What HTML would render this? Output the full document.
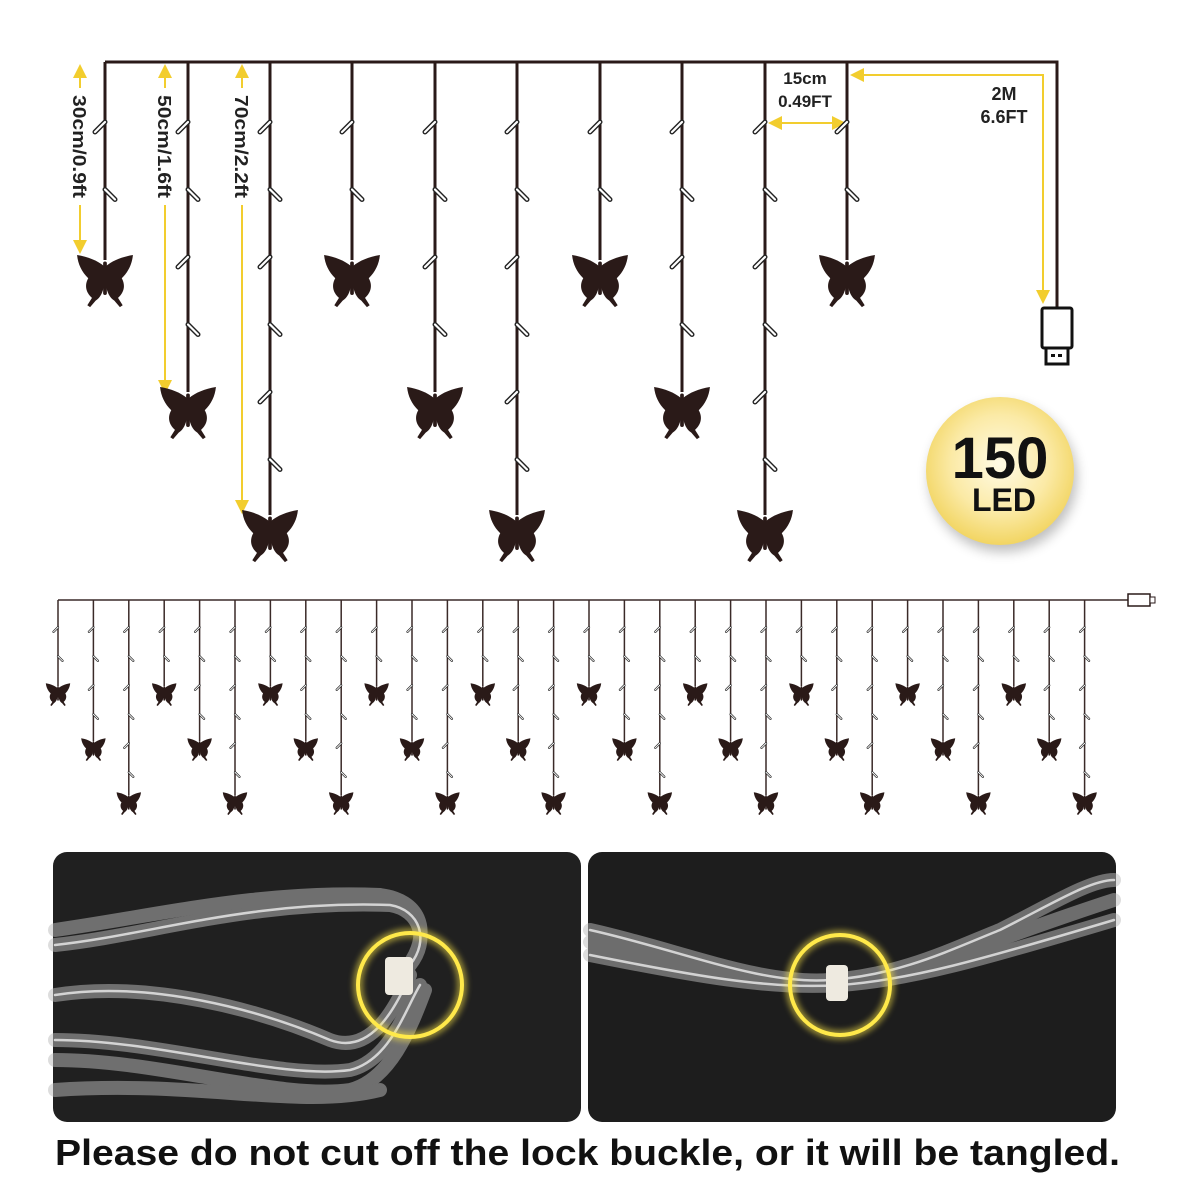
<!DOCTYPE html>
<html><head><meta charset="utf-8"><style>
html,body{margin:0;padding:0;background:#fff;width:1200px;height:1200px;overflow:hidden}
svg{display:block}
</style></head><body>
<svg id="s" width="1200" height="1200" viewBox="0 0 1200 1200" xmlns="http://www.w3.org/2000/svg" font-family="Liberation Sans, sans-serif">
<defs>
<symbol id="bf" viewBox="-32 -4 64 58" overflow="visible">
<g fill="#2a1a18">
<path d="M-1,8 C-8,2 -18,-2 -30,-4 C-29,6 -25,14 -18,21 C-22,28 -21,36 -14,42 L-19,50 L-16,52 L-10,45 C-5,42 -2,36 -1,28 Z"/>
<path d="M1,8 C8,2 18,-2 30,-4 C29,6 25,14 18,21 C22,28 21,36 14,42 L19,50 L16,52 L10,45 C5,42 2,36 1,28 Z"/>
<rect x="-2" y="3" width="4" height="36" rx="2"/>
</g>
</symbol>
<radialGradient id="led" cx="50%" cy="45%" r="55%">
<stop offset="0" stop-color="#fffbe6"/><stop offset="0.6" stop-color="#fbeaa6"/><stop offset="1" stop-color="#f2d562"/>
</radialGradient>
<filter id="sh" x="-30%" y="-30%" width="160%" height="160%"><feGaussianBlur stdDeviation="6"/></filter>
<filter id="gl" x="-30%" y="-30%" width="160%" height="160%"><feGaussianBlur stdDeviation="3"/></filter>
</defs>
<g stroke="#2a1a18" stroke-width="3" fill="none">
<path d="M105,62 H1057 V308"/>
</g>
<g stroke="#3a2a28" stroke-width="1.5" fill="none">
<path d="M58,600 H1128"/>
</g>
<rect x="1128" y="594" width="22" height="12" fill="#fff" stroke="#2a1a18" stroke-width="1.5"/>
<rect x="1150" y="597" width="5" height="6" fill="#fff" stroke="#2a1a18" stroke-width="1"/>
<rect x="1042" y="308" width="30" height="40" rx="2" fill="#fff" stroke="#111" stroke-width="3"/>
<rect x="1046" y="348" width="22" height="16" fill="#fff" stroke="#111" stroke-width="3"/>
<rect x="1051" y="354" width="4" height="3" fill="#111"/><rect x="1058" y="354" width="4" height="3" fill="#111"/>
<g stroke="#f2cd2e" stroke-width="2" fill="#f2cd2e">
<line x1="80" y1="75" x2="80" y2="88"/><line x1="80" y1="205" x2="80" y2="245"/>
<polygon points="73,78 87,78 80,64" stroke="none"/><polygon points="73,240 87,240 80,254" stroke="none"/>
<line x1="165" y1="75" x2="165" y2="88"/><line x1="165" y1="205" x2="165" y2="385"/>
<polygon points="158,78 172,78 165,64" stroke="none"/><polygon points="158,380 172,380 165,394" stroke="none"/>
<line x1="242" y1="75" x2="242" y2="88"/><line x1="242" y1="205" x2="242" y2="505"/>
<polygon points="235,78 249,78 242,64" stroke="none"/><polygon points="235,500 249,500 242,514" stroke="none"/>
<line x1="775" y1="123" x2="838" y2="123"/>
<polygon points="768,123 782,116 782,130" stroke="none"/><polygon points="846,123 832,116 832,130" stroke="none"/>
<polyline points="860,75 1043,75 1043,295" fill="none"/>
<polygon points="850,75 864,68 864,82" stroke="none"/><polygon points="1036,290 1050,290 1043,304" stroke="none"/>
</g>
<g font-weight="bold" fill="#222" font-size="18">
<text transform="translate(73,95) rotate(90)" textLength="103" lengthAdjust="spacingAndGlyphs">30cm/0.9ft</text>
<text transform="translate(158,95) rotate(90)" textLength="103" lengthAdjust="spacingAndGlyphs">50cm/1.6ft</text>
<text transform="translate(235,95) rotate(90)" textLength="103" lengthAdjust="spacingAndGlyphs">70cm/2.2ft</text>
<text x="805" y="84" text-anchor="middle" font-size="17">15cm</text>
<text x="805" y="107" text-anchor="middle" font-size="17">0.49FT</text>
<text x="1004" y="100" text-anchor="middle" font-size="18">2M</text>
<text x="1004" y="123" text-anchor="middle" font-size="18">6.6FT</text>
</g>
<circle cx="1003" cy="478" r="74" fill="#000" opacity="0.25" filter="url(#sh)"/>
<circle cx="1000" cy="471" r="74" fill="url(#led)"/>
<text x="1000" y="478" text-anchor="middle" font-weight="bold" font-size="58" fill="#111">150</text>
<text x="1004" y="511" text-anchor="middle" font-weight="bold" font-size="32" fill="#111">LED</text>
<rect x="53" y="852" width="528" height="270" rx="14" fill="#202020"/>
<rect x="588" y="852" width="528" height="270" rx="14" fill="#1d1d1d"/>
<g fill="none" stroke-linecap="round">
<g stroke="#bdbdbd" stroke-width="14" opacity="0.5">
<path d="M55,945 C150,935 250,900 390,905 C420,910 430,940 410,965"/>
<path d="M55,930 C160,915 260,890 380,895 C420,900 430,930 412,960"/>
<path d="M55,995 C150,980 260,1010 330,1040 C370,1055 395,1010 410,975"/>
<path d="M55,1040 C160,1040 280,1080 350,1070 C390,1060 405,1010 420,985"/>
<path d="M55,1060 C160,1060 280,1100 350,1090 C390,1080 410,1030 425,990"/>
<path d="M55,1090 C200,1080 300,1110 380,1090"/>
<path d="M590,930 C680,950 760,985 830,980 C900,975 950,950 1000,930 C1050,905 1090,880 1114,880"/>
<path d="M590,955 C690,975 770,990 840,985 C910,980 980,960 1114,920"/>
<path d="M590,942 C690,965 770,985 840,982 C910,978 990,940 1114,900"/>
</g>
<g stroke="#ffffff" stroke-width="2.5" opacity="0.7">
<path d="M55,945 C150,935 250,900 390,905 C420,910 430,940 410,965"/>
<path d="M55,995 C150,980 260,1010 330,1040 C370,1055 395,1010 410,975"/>
<path d="M55,1040 C160,1040 280,1080 350,1070 C390,1060 405,1010 420,985"/>
<path d="M590,930 C680,950 760,985 830,980 C900,975 950,950 1000,930 C1050,905 1090,880 1114,880"/>
<path d="M590,955 C690,975 770,990 840,985 C910,980 980,960 1114,920"/>
</g>
</g>
<rect x="385" y="957" width="28" height="38" rx="4" fill="#eeeae0"/>
<rect x="826" y="965" width="22" height="36" rx="4" fill="#eeeae0"/>
<g fill="none" stroke="#ffe94a">
<circle cx="410" cy="985" r="52" stroke-width="10" opacity="0.5" filter="url(#gl)"/>
<circle cx="410" cy="985" r="52" stroke-width="4"/>
<circle cx="840" cy="985" r="50" stroke-width="10" opacity="0.5" filter="url(#gl)"/>
<circle cx="840" cy="985" r="50" stroke-width="4"/>
</g>
<text x="55" y="1165" font-weight="bold" font-size="36" fill="#111" textLength="1065" lengthAdjust="spacingAndGlyphs">Please do not cut off the lock buckle, or it will be tangled.</text>
</svg>
<script>
var NS="http://www.w3.org/2000/svg",s=document.getElementById('s');
function el(t,a){var e=document.createElementNS(NS,t);for(var k in a)e.setAttribute(k,a[k]);s.appendChild(e);return e;}
function tick(x,y,dir,sc){
 var x1,y1,x2,y2;
 if(dir<0){x1=x;y1=y-6*sc;x2=x-10*sc;y2=y+4*sc;} else {x1=x;y1=y-6*sc;x2=x+10*sc;y2=y+4*sc;}
 el('line',{x1:x1,y1:y1,x2:x2,y2:y2,stroke:'#222','stroke-width':5*sc,'stroke-linecap':'round'});
 el('line',{x1:x1,y1:y1,x2:x2,y2:y2,stroke:'#fff','stroke-width':2.2*sc,'stroke-linecap':'round'});
}
var xs=[105,188,270,352,435,517,600,682,765,847],ends=[255,387,510];
xs.forEach(function(x,i){var e=ends[i%3];
 el('line',{x1:x,y1:62,x2:x,y2:e+5,stroke:'#2a1a18','stroke-width':3});
 for(var k=0;k<6;k++){var y=128+k*67.5; if(y>e-10)break; tick(x,y,k%2==0?-1:1,1);}
 el('use',{href:'#bf',x:x-30,y:e,width:60,height:54});
});
var bends=[683,738,792];
for(var i=0;i<30;i++){var x=58+i*35.4,e=bends[i%3];
 el('line',{x1:x,y1:600,x2:x,y2:e+3,stroke:'#3a2a28','stroke-width':1.5});
 for(var k=0;k<6;k++){var y=630+k*29; if(y>e-6)break; tick(x,y,k%2==0?-1:1,0.45);}
 el('use',{href:'#bf',x:x-13,y:e,width:26,height:24});
}
</script>
</body></html>
